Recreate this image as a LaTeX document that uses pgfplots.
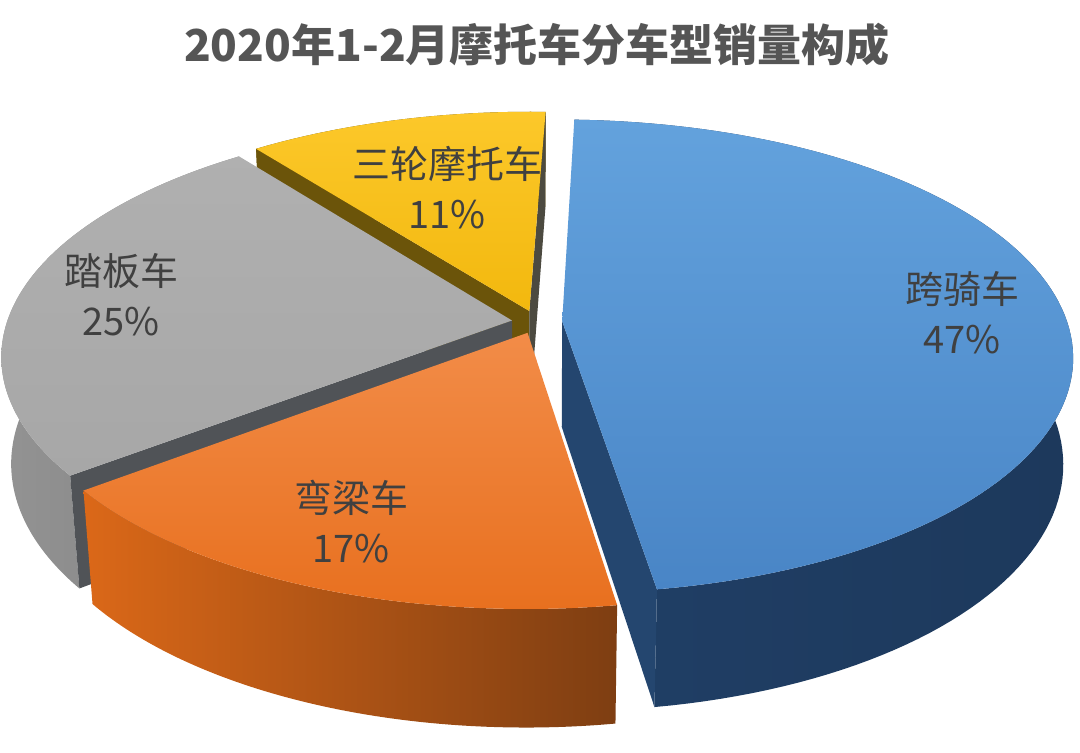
\documentclass[border=0pt]{standalone}
\usepackage{pgfplots}
\pgfplotsset{compat=1.18}
\usepackage{fontspec}
\newfontfamily\cjk{Noto Sans CJK SC}

\definecolor{bluetopA}{HTML}{63A2DD}
\definecolor{bluetopB}{HTML}{4985C6}
\definecolor{blueside}{HTML}{203F66}
\definecolor{bluewall}{HTML}{24466F}
\definecolor{orgtopA}{HTML}{F28C48}
\definecolor{orgtopB}{HTML}{E8701F}
\definecolor{orgsideA}{HTML}{DB6818}
\definecolor{orgsideB}{HTML}{7E3E12}
\definecolor{graytop}{HTML}{A7A7A7}
\definecolor{grayside}{HTML}{939393}
\definecolor{graywall}{HTML}{505357}
\definecolor{yeltopA}{HTML}{FCC82A}
\definecolor{yeltopB}{HTML}{F2B80E}
\definecolor{yelwall}{HTML}{6B540A}
\definecolor{yelend}{HTML}{4C4A40}
\definecolor{titlegray}{HTML}{555555}
\definecolor{labelgray}{HTML}{404040}

% slices (percent): 跨骑车 47, 弯梁车 17, 踏板车 25, 三轮摩托车 11
% cumulative bounds: 0 | 47 | 64 | 89 | 100

\newcommand\topface[3]{%
 \addplot[#3, draw=none, domain=0:3, samples=301, variable=\t]
  ({PX(OX(#1,#2)+RT(\t)*sin(AT(\t,#1,#2)), OZ(#1,#2)-RT(\t)*cos(AT(\t,#1,#2)), 0)},
   {PY(OX(#1,#2)+RT(\t)*sin(AT(\t,#1,#2)), OZ(#1,#2)-RT(\t)*cos(AT(\t,#1,#2)), 0)});
}
\newcommand\sideface[3]{%
 \addplot[#3, draw=none, domain=0:2.01, samples=202, variable=\t]
  ({PX(OX(#1,#2)+sin(AS(\t,#1,#2)), OZ(#1,#2)-cos(AS(\t,#1,#2)), YS(\t))},
   {PY(OX(#1,#2)+sin(AS(\t,#1,#2)), OZ(#1,#2)-cos(AS(\t,#1,#2)), YS(\t))});
}
\newcommand\wallface[4]{%
 \addplot[#4, draw=none, samples at={0,1,2,3}, variable=\t]
  ({PX(OX(#1,#2)+RW(\t)*sin(2+3.6*#3), OZ(#1,#2)-RW(\t)*cos(2+3.6*#3), YW(\t))},
   {PY(OX(#1,#2)+RW(\t)*sin(2+3.6*#3), OZ(#1,#2)-RW(\t)*cos(2+3.6*#3), YW(\t))});
}

\begin{document}
\begin{tikzpicture}
\begin{axis}[
  width=540pt, height=376.5pt, scale only axis,
  xmin=0, xmax=1080, ymin=0, ymax=753,
  hide axis, clip=false,
  declare function={
    PX(\X,\Z,\Y) = 537 + 3030*\X/(6 - 0.459*\Y - 0.888*\Z);
    PY(\X,\Z,\Y) = 431 + 3030*(0.888*\Y - 0.459*\Z)/(6 - 0.459*\Y - 0.888*\Z);
    OX(\p,\q) = 0.05*sin(2+1.8*(\p+\q));
    OZ(\p,\q) = -0.05*cos(2+1.8*(\p+\q));
    AT(\t,\p,\q) = 2 + 3.6*(\p + (\q-\p)*max(0,min(1,\t-1)));
    RT(\t) = max(0,min(1,min(\t,3-\t)));
    AS(\t,\p,\q) = 2 + 3.6*(\p + (\q-\p)*min(1,min(\t,2.01-\t)));
    YS(\t) = -0.24*(\t>1.005);
    RW(\t) = (\t>0.5)*(\t<2.5);
    YW(\t) = -0.24*(\t>1.5);
  },
]
\path (rel axis cs:0,0) rectangle (rel axis cs:1,1);

% 三轮摩托车 (yellow, back)
\sideface{89}{100}{fill=yelwall}
\wallface{89}{100}{89}{fill=yelwall}
\wallface{89}{100}{100}{fill=yelend}
\topface{89}{100}{top color=yeltopA, bottom color=yeltopB}

% 踏板车 (gray)
\sideface{64}{89}{left color=grayside, right color=grayside!88!black}
\wallface{64}{89}{64}{fill=graywall}
\topface{64}{89}{top color=graytop!90!white, bottom color=graytop}

% 跨骑车 (blue)
\sideface{0}{47}{left color=blueside, right color=blueside!90!black}
\wallface{0}{47}{47}{fill=bluewall}
\topface{0}{47}{top color=bluetopA, bottom color=bluetopB}

% 弯梁车 (orange, front)
\sideface{47}{64}{left color=orgsideA, right color=orgsideB}
\topface{47}{64}{top color=orgtopA, bottom color=orgtopB}

\node[font=\cjk\bfseries\fontsize{22}{26}\selectfont, text=titlegray] at (axis cs:537,708) {2020年1-2月摩托车分车型销量构成};

\node[font=\cjk\fontsize{19}{25}\selectfont, text=labelgray, align=center] at (axis cs:962,440) {跨骑车\\47\%};
\node[font=\cjk\fontsize{19}{25}\selectfont, text=labelgray, align=center] at (axis cs:351,231) {弯梁车\\17\%};
\node[font=\cjk\fontsize{19}{25}\selectfont, text=labelgray, align=center] at (axis cs:121,458) {踏板车\\25\%};
\node[font=\cjk\fontsize{19}{25}\selectfont, text=labelgray, align=center] at (axis cs:447,565) {三轮摩托车\\11\%};
\end{axis}
\end{tikzpicture}
\end{document}
